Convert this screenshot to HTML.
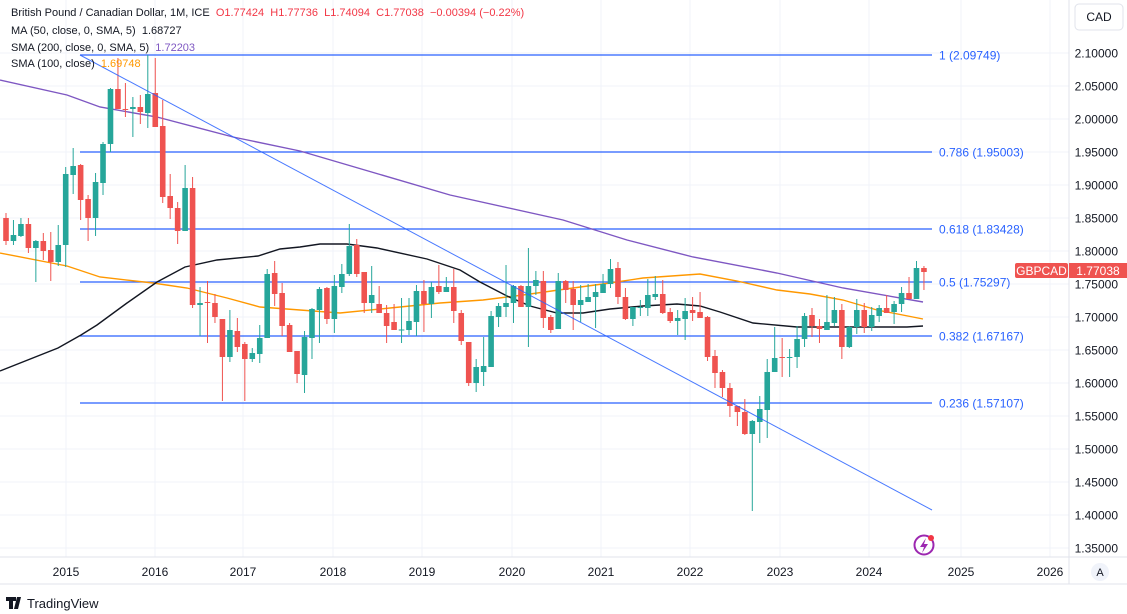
<!DOCTYPE html>
<html><head><meta charset="utf-8"><style>
body{margin:0;background:#fff;width:1127px;height:614px;overflow:hidden;font-family:"Liberation Sans",sans-serif;}
svg{position:absolute;left:0;top:0}
.leg{position:absolute;left:11px;font-size:11px;color:#131722;white-space:nowrap}
</style></head><body>
<svg id="s" width="1127" height="614" xmlns="http://www.w3.org/2000/svg" font-family="Liberation Sans, sans-serif"></svg>
<div class="leg" style="top:7px">British Pound / Canadian Dollar, 1M, ICE&nbsp; <span style="color:#f23645">O1.77424</span>&nbsp; <span style="color:#f23645">H1.77736</span>&nbsp; <span style="color:#f23645">L1.74094</span>&nbsp; <span style="color:#f23645">C1.77038</span>&nbsp; <span style="color:#f23645">−0.00394 (−0.22%)</span></div>
<div class="leg" style="top:25px">MA (50, close, 0, SMA, 5)&nbsp; 1.68727</div>
<div class="leg" style="top:42px">SMA (200, close, 0, SMA, 5)&nbsp; <span style="color:#7e57c2">1.72203</span></div>
<div class="leg" style="top:58px">SMA (100, close)&nbsp; <span style="color:#ff9800">1.69748</span></div>
<script>
const s=document.getElementById('s');let h='';
for(let i=0;i<=15;i++){const y=53+i*33;h+=`<line x1="0" x2="1069" y1="${y}" y2="${y}" stroke="#f0f3fa"/>`;
h+=`<text x="1118" y="${y+4.5}" font-size="12" fill="#131722" text-anchor="end">${(2.1-i*0.05).toFixed(5)}</text>`;}
const yrs=[[66,2015],[155,2016],[243,2017],[333,2018],[422,2019],[512,2020],[601,2021],[690,2022],[780,2023],[869,2024],[961,2025],[1050,2026]];
for(const[x,t] of yrs){h+=`<line x1="${x}" x2="${x}" y1="0" y2="557" stroke="#f0f3fa"/><text x="${x}" y="576" font-size="12" fill="#131722" text-anchor="middle">${t}</text>`;}
h+=`<line x1="1069" x2="1069" y1="0" y2="584" stroke="#e0e3eb"/><line x1="0" x2="1127" y1="557" y2="557" stroke="#e0e3eb"/><line x1="0" x2="1127" y1="584" y2="584" stroke="#e0e3eb"/>`;
const fib=[[55,'1 (2.09749)'],[152,'0.786 (1.95003)'],[229,'0.618 (1.83428)'],[282,'0.5 (1.75297)'],[336,'0.382 (1.67167)'],[403,'0.236 (1.57107)']];
for(const[y,t] of fib){h+=`<line x1="80" x2="932" y1="${y}" y2="${y}" stroke="#2962ff" stroke-width="1.2"/><text x="939" y="${y+4.5}" font-size="12" fill="#2962ff">${t}</text>`;}
const pl=(p,c)=>`<polyline fill="none" stroke="${c}" stroke-width="1.4" points="${p}"/>`;
h+=pl("0,80 67,95 100,107 157,117 233,137 300,151 450,195 563,220 627,240 693,257 777,273 843,288 923,302","#7e57c2");
h+=pl("0,253 67,266 100,277 153,283 187,288 227,298 260,307 300,310 340,313 390,308 440,303 483,300 523,295 573,288 610,283 643,278 700,274 737,281 777,290 810,294 843,300 877,310 923,319","#ff9800");
h+=pl("0,371 58,348 81,335 97,325 127,303 157,282 185,267 217,260 258,256 280,249 300,247 320,244 347,244 377,248 427,259 460,270 480,282 507,296 530,306 557,313 583,313 610,309 643,306 677,304 700,306 720,312 753,323 797,327 843,327 907,327 923,326","#131722");
const C=[[218,241,213,245],[241,235,220,245],[236,224,218,237],[224,248,218,253],[248,241,240,282],[241,251,233,260],[250,262,232,281],[262,245,225,266],[245,174,167,267],[175,166,148,194],[165,200,164,220],[199,218,195,241],[218,182,173,236],[183,144,142,195],[144,89,88,152],[89,109,58,109],[109,110,83,117],[109,107,97,137],[107,112,95,124],[113,94,55,128],[93,127,58,127],[126,197,100,203],[196,208,174,219],[208,231,202,244],[231,188,165,231],[188,305,177,308],[305,303,287,336],[302,303,281,343],[303,317,294,323],[319,357,319,401],[357,330,310,362],[331,347,318,352],[344,359,342,401],[359,353,348,362],[354,338,325,363],[338,274,269,338],[273,294,261,306],[293,326,283,336],[325,352,323,352],[351,374,351,383],
[375,337,331,393],[338,309,308,359],[310,289,287,343],[288,319,287,324],[319,286,275,333],[287,274,264,293],[274,246,224,276],[245,274,239,277],[272,303,272,313],[303,295,266,313],[304,313,286,313],[313,326,305,343],[322,330,304,330],[330,329.5,298,343],[330,321,298,335],[322,291,285,336],[291,304,280,332],[304,287,282,318],[286,292,265,294],[292,287,277,292],[287,311,269,323],[313,341,310,345],[342,383,342,386],[383,367,359,392],[372,366,337,386],[367,316,311,367],[317,306,303,327],[307,303,265,317],[303,286,285,323],[286,307,285,307],[307,286,248,347],[286,280,271,295],[281,318,271,328],[317,330,315,333],[329,281,273,329],[281,290,280,303],[289,305,281,330],[305,300,285,322],[302,297,284,302],[297,292,284,328],[293,284,274,293],[284,269,259,288],[268,297,262,304],[297,319,288,320],[319,307,307,326],[308,307,300,316],[308,295,279,316],[297,294,276,300],[294,313,280,314],[312,321,308,323],[321,318,310,335],[319,311,298,340],[310,313,297,321],[312,318,292,318],[317,357,316,361],[356,373,350,388],[372,388,370,397],[388,406,383,417],[406,412,406,426],[412,434,399,435],[434,421,420,511],[422,409,396,443],[410,372,359,438],[372,358,327,372],[357,357.5,338,377],[357.5,357,349,377],[357,339,326,368],[339,316,313,347],[315,326,308,337],[326,329,319,343],[330,322,295,330],[323,310,297,326],[310,347,304,359],[347,327,326,348],[327,310,299,334],[310,327,303,333],[327,315,307,331],[316,308,305,322],[308,313,295,313],[312,304,301,324],[304,293,287,312],[293,299,277,299],[299,268,261,299],[268,272,266,290]];
C.forEach((d,i)=>{const x=6+i*7.463;let[o,c,hi,lo]=d;const up=c<=o;const col=up?'#26a69a':'#ef5350';
h+=`<line x1="${x}" x2="${x}" y1="${hi}" y2="${lo}" stroke="${col}" stroke-width="1"/>`;
const t=Math.min(o,c),bh=Math.max(1,Math.abs(o-c));h+=`<rect x="${x-2.8}" y="${t}" width="5.6" height="${bh}" fill="${col}"/>`;});
h+=`<line x1="80" y1="55" x2="932" y2="510" stroke="#2962ff" stroke-width="1" opacity=".85"/>`;
h+=`<rect x="1075" y="4" width="48" height="26" rx="4" fill="#fff" stroke="#e0e3eb"/><text x="1099" y="21" font-size="12" fill="#131722" text-anchor="middle">CAD</text>`;
h+=`<rect x="1015" y="263" width="53" height="15" rx="2" fill="#ef5350"/><text x="1041.5" y="275" font-size="12" fill="#fff" text-anchor="middle">GBPCAD</text>`;
h+=`<rect x="1069" y="263" width="58" height="15" fill="#ef5350"/><text x="1098" y="275" font-size="12" fill="#fff" text-anchor="middle">1.77038</text>`;
h+=`<circle cx="1100" cy="572" r="9" fill="#f0f3fa"/><text x="1100" y="576" font-size="11" fill="#131722" text-anchor="middle">A</text>`;
h+=`<circle cx="924" cy="545" r="9.5" fill="none" stroke="#9c27b0" stroke-width="2"/><path d="M926 538 L920 547 L924 547 L922 553 L928 544 L924 544 Z" fill="#9c27b0"/><circle cx="931" cy="538" r="3" fill="#f23645"/>`;
h+=`<path d="M6 597 h10 v4 h-3 v8 h-4 v-8 h-3z M17 597 h4 l-3 12 h-4z" fill="#131722"/><text x="27" y="608" font-size="13" fill="#131722">TradingView</text>`;
s.innerHTML=h;
</script>
</body></html>
